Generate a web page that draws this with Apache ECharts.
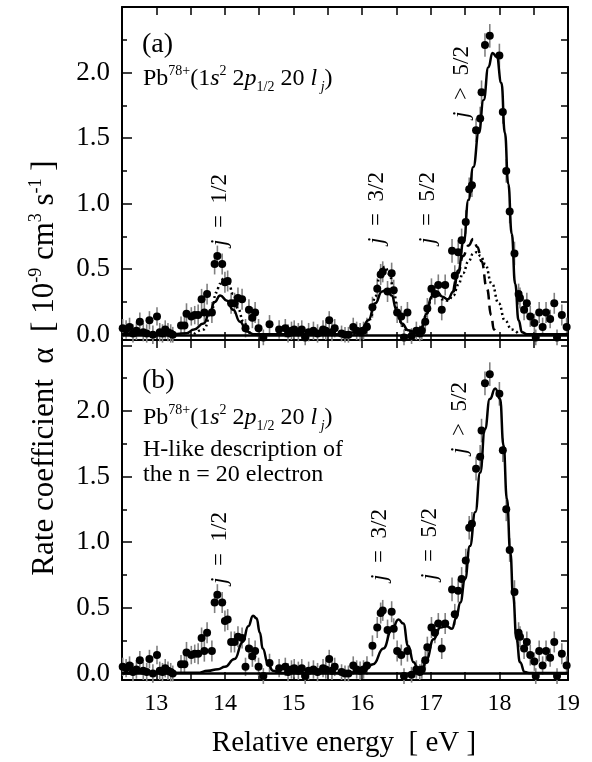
<!DOCTYPE html>
<html><head><meta charset="utf-8">
<script src="https://cdn.jsdelivr.net/npm/echarts@6/dist/echarts.min.js"></script>
<style>html,body{margin:0;padding:0;background:#fff}#c{width:592px;height:762px}</style>
</head><body><div id="c"></div>
<script>
// ---- experimental data (same measurement shown in both panels) ----
const energy = [12.51,12.56,12.61,12.66,12.71,12.76,12.81,12.86,12.90,12.95,13.01,13.05,13.09,13.13,13.17,13.21,13.24,13.36,13.41,13.44,13.51,13.56,13.61,13.66,13.70,13.74,13.81,13.85,13.89,13.96,14.00,14.04,14.09,14.14,14.19,14.25,14.30,14.35,14.40,14.44,14.49,14.56,14.65,14.79,14.88,14.92,14.97,15.01,15.07,15.12,15.17,15.22,15.29,15.35,15.43,15.47,15.52,15.56,15.60,15.70,15.75,15.80,15.87,15.92,15.97,16.02,16.07,16.15,16.22,16.27,16.30,16.37,16.43,16.46,16.51,16.57,16.61,16.66,16.72,16.79,16.84,16.87,16.92,16.95,17.01,17.06,17.11,17.16,17.21,17.31,17.35,17.40,17.45,17.51,17.56,17.60,17.66,17.72,17.74,17.79,17.86,18.00,18.05,18.10,18.15,18.22,18.28,18.30,18.36,18.40,18.45,18.51,18.53,18.58,18.63,18.68,18.74,18.80,18.84,18.91,18.98];
const rate = [0.05,0.04,0.06,0.01,0.03,0.10,0.02,0.01,0.11,0.00,0.14,0.02,0.01,0.04,0.02,0.01,0.00,0.07,0.07,0.16,0.14,0.15,0.15,0.27,0.17,0.31,0.17,0.54,0.60,0.54,0.40,0.41,0.24,0.24,0.28,0.27,0.05,0.19,0.13,0.17,0.05,-0.02,0.08,0.04,0.05,0.01,0.03,0.04,0.02,0.04,-0.02,0.02,0.03,0.01,0.04,0.03,0.11,0.02,0.05,0.01,0.00,0.00,0.06,0.03,0.02,0.03,0.06,0.21,0.35,0.46,0.48,0.33,0.47,0.34,0.17,0.14,-0.02,0.17,-0.01,0.03,0.01,0.03,0.10,0.20,0.35,0.31,0.38,0.19,0.38,0.64,0.45,0.63,0.72,0.86,1.11,1.14,1.56,1.65,1.85,2.21,2.28,2.13,1.70,1.25,0.94,0.62,0.31,0.28,0.19,0.24,0.14,0.09,-0.02,0.17,0.06,0.17,0.12,0.24,-0.02,0.15,0.06];
const rateErr = [0.07,0.07,0.07,0.07,0.07,0.07,0.07,0.07,0.07,0.07,0.07,0.07,0.07,0.07,0.07,0.07,0.06,0.07,0.07,0.08,0.07,0.07,0.08,0.08,0.08,0.08,0.08,0.08,0.08,0.08,0.08,0.08,0.08,0.08,0.08,0.08,0.07,0.08,0.08,0.08,0.07,0.06,0.07,0.07,0.07,0.07,0.07,0.07,0.07,0.07,0.06,0.07,0.07,0.07,0.07,0.07,0.07,0.07,0.07,0.06,0.06,0.06,0.07,0.07,0.07,0.07,0.07,0.08,0.08,0.08,0.08,0.08,0.08,0.08,0.08,0.08,0.06,0.08,0.06,0.07,0.06,0.07,0.07,0.08,0.08,0.08,0.08,0.08,0.08,0.09,0.08,0.09,0.09,0.09,0.09,0.09,0.09,0.09,0.09,0.09,0.09,0.09,0.09,0.09,0.09,0.09,0.08,0.08,0.08,0.08,0.08,0.07,0.06,0.08,0.07,0.08,0.07,0.08,0.06,0.08,0.07];

// ---- panel (a): model curves ----
const fitA = [[12.5,0.005],[13.0,0.005],[13.3,0.006],[13.44,0.012],[13.55,0.04],[13.69,0.085],[13.78,0.17],[13.85,0.25],[13.93,0.30],[14.03,0.26],[14.12,0.19],[14.22,0.10],[14.32,0.025],[14.42,0.004],[15.0,0.003],[15.7,0.004],[15.9,0.02],[16.0,0.05],[16.09,0.11],[16.19,0.24],[16.29,0.33],[16.36,0.345],[16.43,0.30],[16.50,0.19],[16.58,0.085],[16.67,0.035],[16.77,0.02],[16.87,0.06],[16.94,0.16],[17.01,0.29],[17.09,0.33],[17.17,0.29],[17.25,0.27],[17.33,0.33],[17.40,0.49],[17.48,0.71],[17.55,1.03],[17.62,1.28],[17.70,1.54],[17.77,1.79],[17.84,2.04],[17.90,2.15],[17.96,2.12],[18.03,1.92],[18.08,1.54],[18.13,1.15],[18.18,0.77],[18.23,0.39],[18.28,0.11],[18.33,0.02],[18.40,0.003],[19.0,0.003]];
const dotA = [[13.55,0.005],[13.69,0.04],[13.81,0.19],[13.87,0.32],[13.93,0.39],[13.98,0.43],[14.05,0.40],[14.12,0.31],[14.19,0.20],[14.27,0.10],[14.36,0.015],[14.45,0.002],[15.95,0.002],[16.05,0.03],[16.12,0.12],[16.19,0.29],[16.26,0.46],[16.33,0.52],[16.40,0.46],[16.46,0.33],[16.52,0.18],[16.58,0.07],[16.67,0.025],[16.77,0.02],[16.87,0.06],[16.94,0.16],[17.01,0.28],[17.09,0.31],[17.17,0.27],[17.25,0.26],[17.33,0.30],[17.40,0.38],[17.47,0.47],[17.55,0.56],[17.62,0.62],[17.67,0.63],[17.73,0.60],[17.79,0.54],[17.89,0.39],[17.99,0.24],[18.08,0.11],[18.18,0.04],[18.28,0.005]];
const dashA = [[17.33,0.33],[17.40,0.47],[17.47,0.60],[17.55,0.68],[17.62,0.73],[17.68,0.67],[17.74,0.56],[17.82,0.35],[17.88,0.15],[17.92,0.04],[17.96,0.005]];

// ---- panel (b): H-like model curve ----
const fitB = [[12.5,0.004],[13.6,0.005],[13.75,0.02],[13.9,0.032],[14.0,0.05],[14.14,0.11],[14.26,0.24],[14.34,0.36],[14.41,0.44],[14.46,0.42],[14.51,0.31],[14.55,0.19],[14.63,0.07],[14.70,0.02],[14.80,0.004],[15.8,0.004],[15.9,0.01],[16.02,0.02],[16.16,0.07],[16.31,0.19],[16.43,0.33],[16.53,0.41],[16.60,0.38],[16.67,0.21],[16.75,0.085],[16.82,0.02],[16.88,0.04],[16.94,0.11],[17.04,0.26],[17.14,0.35],[17.23,0.36],[17.31,0.34],[17.37,0.42],[17.43,0.54],[17.50,0.72],[17.57,0.97],[17.65,1.23],[17.72,1.53],[17.79,1.86],[17.86,2.09],[17.94,2.17],[18.01,2.09],[18.06,1.74],[18.11,1.33],[18.16,0.92],[18.20,0.59],[18.25,0.26],[18.30,0.085],[18.37,0.01],[18.45,0.003],[19.0,0.003]];

// ---- axis ticks / labels ----
const xTickLabels = [13,14,15,16,17,18,19];
const yTickLabels = [0,0.5,1,1.5,2];
const yMajorTicks = [0,0.5,1,1.5,2,2.5];
const yMinorTicks = [0.25,0.75,1.25,1.75,2.25];
const yAllTicks = [0,0.25,0.5,0.75,1,1.25,1.5,1.75,2,2.25,2.5];

const FONT = 'Liberation Serif';
const panelRange = [[-0.04, 2.5], [-0.05, 2.54]];

function xAx(gi, pos, showLabels) {
  return {type:'value', gridIndex:gi, position:pos, min:12.5, max:19, interval:0.5,
    axisLine:{show:true, onZero:false, lineStyle:{color:'#000', width:2}},
    axisTick:{show:true, inside:true, length:8, lineStyle:{color:'#000', width:1.5}},
    axisLabel:{show:showLabels, customValues:xTickLabels, fontFamily:FONT, fontSize:24, color:'#000', margin:12},
    splitLine:{show:false}};
}
function yAx(gi, pos, ticks, len, lineShow, labels) {
  return {type:'value', gridIndex:gi, position:pos, min:panelRange[gi][0], max:panelRange[gi][1],
    axisLine:{show:lineShow, onZero:false, lineStyle:{color:'#000', width:2}},
    axisTick:{show:true, inside:true, length:len, customValues:ticks, lineStyle:{color:'#000', width:1.5}},
    axisLabel:{show:labels, customValues:yTickLabels, formatter:v=>v.toFixed(1), fontFamily:FONT, fontSize:27, color:'#000', margin:12},
    splitLine:{show:false}};
}

const xAxes = [xAx(0,'bottom',false), xAx(0,'top',false), xAx(1,'bottom',true), xAx(1,'top',false)];
const yAxes = [];
for (let g=0; g<2; g++) {
  yAxes.push(yAx(g,'left',yMajorTicks,10,true,true));
  yAxes.push(yAx(g,'left',yMinorTicks,5,false,false));
  yAxes.push(yAx(g,'right',yAllTicks,7,true,false));
}

const points = energy.map((e,i)=>[e, rate[i], rateErr[i]]);

function curve(gi, data, type) {
  return {type:'line', xAxisIndex:gi*2, yAxisIndex:gi*3, data:data, showSymbol:false, symbol:'none',
    smooth:0.5, smoothMonotone:'x', silent:true, z:4,
    lineStyle:{color:'#000', width:2.5, type:type}};
}
function panel(gi, curves) {
  const xi = gi*2, yi = gi*3;
  const s = [];
  s.push({type:'custom', xAxisIndex:xi, yAxisIndex:yi, data:points, silent:true, z:2,
    encode:{x:0, y:1},
    renderItem:function(params, api){
      const x = api.value(0), y = api.value(1), e = api.value(2);
      const p1 = api.coord([x, y-e]), p2 = api.coord([x, y+e]);
      return {type:'line', shape:{x1:p1[0], y1:p1[1], x2:p2[0], y2:p2[1]}, style:{stroke:'#808080', lineWidth:1.6}};
    }});
  s.push({type:'scatter', xAxisIndex:xi, yAxisIndex:yi, data:points.map(p=>[p[0],p[1]]), symbolSize:8,
    itemStyle:{color:'#000', opacity:1}, silent:true, z:3,
    markLine:{silent:true, symbol:['none','none'], label:{show:false}, animation:false,
      lineStyle:{color:'#000', width:2.6, type:'solid', opacity:1}, data:[{yAxis:0}]}});
  curves.forEach(c=>s.push(curve(gi, c[0], c[1])));
  return s;
}

const series = [].concat(
  panel(0, [[fitA,'solid'],[dotA,[2,3]],[dashA,[10,6]]]),
  panel(1, [[fitB,'solid']])
);

const supS = {fontFamily:FONT, fontSize:14, verticalAlign:'top', fill:'#000'};
const subS = {fontFamily:FONT, fontSize:14, verticalAlign:'bottom', fill:'#000'};
const itS = {fontFamily:FONT, fontSize:24, fontStyle:'italic', fill:'#000'};
const richPb = {sup:supS, sub:subS, it:itS,
  subit:{fontFamily:FONT, fontSize:14, fontStyle:'italic', verticalAlign:'bottom', fill:'#000'}};
const pbText = 'Pb{sup|78+}(1{it|s}{sup|2} 2{it|p}{sub|1/2} 20 {it|l}{subit| j})';

function txt(x, y, text, size) {
  return {type:'text', x:x, y:y, silent:true,
    style:{text:text, fontFamily:FONT, fontSize:size, fill:'#000', align:'left', verticalAlign:'middle'}};
}
const jRich = {i:{fontFamily:FONT, fontSize:23, fontStyle:'italic', fill:'#000'}};
function jLabel(x, y, text) {
  return {type:'text', x:x, y:y, rotation:Math.PI/2, silent:true,
    style:{text:text, rich:jRich, fontFamily:FONT, fontSize:23, fill:'#000', align:'center', verticalAlign:'middle'}};
}
function pbLabel(y) {
  return {type:'text', x:143, y:y, silent:true,
    style:{text:pbText, rich:richPb, fontFamily:FONT, fontSize:24, lineHeight:30, fill:'#000', align:'left', verticalAlign:'middle'}};
}

const graphics = [
  txt(142, 45, '(a)', 28),
  pbLabel(79),
  txt(142, 381, '(b)', 28),
  pbLabel(418),
  txt(143, 450, 'H-like description of', 24),
  txt(143, 475, 'the n = 20 electron', 24),
  jLabel(220, 210, '{i|j}  =  1/2'),
  jLabel(377, 208, '{i|j}  =  3/2'),
  jLabel(428, 208, '{i|j}  =  5/2'),
  jLabel(462, 82, '{i|j}  >  5/2'),
  jLabel(220, 548, '{i|j}  =  1/2'),
  jLabel(380, 545, '{i|j}  =  3/2'),
  jLabel(430, 544, '{i|j}  =  5/2'),
  jLabel(460, 418, '{i|j}  >  5/2'),
  {type:'text', x:45, y:368, rotation:Math.PI/2, silent:true,
    style:{text:'Rate coefficient  α  [ 10{sup|-9} cm{sup|3} s{sup|-1} ]',
      rich:{sup:{fontFamily:FONT, fontSize:18, verticalAlign:'top', fill:'#000'}},
      fontFamily:FONT, fontSize:31, lineHeight:36, fill:'#000', align:'center', verticalAlign:'middle'}},
  {type:'text', x:344, y:743, silent:true,
    style:{text:'Relative energy  [ eV ]', fontFamily:FONT, fontSize:29, fill:'#000', align:'center', verticalAlign:'middle'}}
];

const chart = echarts.init(document.getElementById('c'), null, {renderer:'canvas'});
chart.setOption({
  animation:false,
  backgroundColor:'#fff',
  grid:[{left:122, top:7, width:446, height:333}, {left:122, top:340, width:446, height:340}],
  xAxis:xAxes,
  yAxis:yAxes,
  series:series,
  graphic:graphics
});
</script>
</body></html>
